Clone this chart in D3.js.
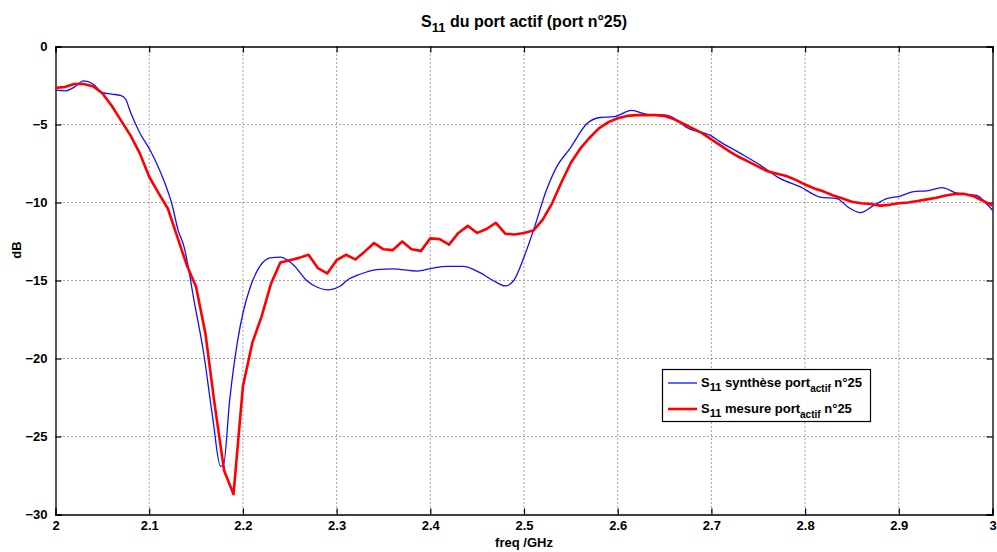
<!DOCTYPE html>
<html><head><meta charset="utf-8">
<script src="https://cdn.jsdelivr.net/npm/d3@7"></script>
<style>
html,body{margin:0;padding:0;background:#fff;}
svg{display:block;}
text{font-family:"Liberation Sans",Arial,Helvetica,sans-serif;font-weight:bold;fill:#000;}
</style></head><body>
<svg id="chart" width="997" height="552"></svg>
<script>
// ---- data ----
const synthFreq = [2.000,2.010,2.020,2.030,2.040,2.050,2.060,2.070,2.075,2.080,2.090,2.101,2.108,2.117,2.124,2.131,2.137,2.141,2.147,2.158,2.168,2.176,2.179,2.186,2.194,2.200,2.208,2.218,2.229,2.240,2.254,2.268,2.280,2.290,2.304,2.311,2.325,2.343,2.360,2.386,2.403,2.418,2.435,2.453,2.467,2.480,2.489,2.500,2.510,2.524,2.535,2.549,2.567,2.581,2.596,2.615,2.631,2.652,2.677,2.699,2.709,2.731,2.752,2.773,2.795,2.816,2.834,2.846,2.859,2.873,2.887,2.901,2.916,2.930,2.946,2.962,2.983,2.994,3.000];
const synthDb = [-2.8,-2.85,-2.6,-2.2,-2.4,-2.95,-3.05,-3.15,-3.4,-4.2,-5.55,-6.65,-7.5,-8.8,-10.05,-11.8,-12.8,-13.9,-16.0,-19.6,-23.9,-26.9,-26.9,-22.6,-19.0,-17.1,-15.4,-14.1,-13.55,-13.5,-14.0,-15.0,-15.45,-15.6,-15.35,-15.0,-14.6,-14.3,-14.25,-14.4,-14.2,-14.1,-14.1,-14.5,-15.0,-15.35,-15.0,-13.5,-11.8,-9.2,-7.7,-6.55,-4.95,-4.55,-4.5,-4.1,-4.35,-4.4,-5.3,-5.7,-6.1,-6.85,-7.6,-8.45,-9.0,-9.65,-9.75,-10.3,-10.65,-10.2,-9.75,-9.6,-9.3,-9.25,-9.05,-9.4,-9.55,-10.1,-10.5];

const mesureFreq = d3.range(0,101).map(i => +(2 + i*0.01).toFixed(2));
const mesureDb = [-2.65,-2.6,-2.4,-2.4,-2.55,-3.0,-3.8,-4.75,-5.7,-6.85,
  -8.35,-9.4,-10.4,-12.2,-14.0,-15.4,-18.4,-23.0,-27.2,-28.7,
  -21.8,-19.0,-17.3,-15.2,-13.85,-13.7,-13.55,-13.35,-14.2,-14.55,
  -13.7,-13.35,-13.65,-13.15,-12.6,-13.0,-13.05,-12.5,-13.0,-13.1,
  -12.3,-12.35,-12.7,-11.95,-11.5,-11.95,-11.7,-11.3,-12.0,-12.05,
  -11.95,-11.8,-11.1,-10.05,-8.7,-7.45,-6.55,-5.85,-5.25,-4.85,
  -4.6,-4.45,-4.4,-4.4,-4.4,-4.45,-4.65,-4.95,-5.25,-5.55,
  -5.95,-6.35,-6.75,-7.1,-7.4,-7.7,-8.0,-8.15,-8.3,-8.55,
  -8.85,-9.1,-9.3,-9.55,-9.75,-9.95,-10.05,-10.1,-10.2,-10.15,
  -10.05,-10.0,-9.9,-9.8,-9.7,-9.55,-9.45,-9.45,-9.6,-9.9,-10.2];

const xTicks = [2,2.1,2.2,2.3,2.4,2.5,2.6,2.7,2.8,2.9,3];
const yTicks = [0,-5,-10,-15,-20,-25,-30];

// ---- layout ----
const svg = d3.select("#chart");
const L = 55.5, R = 992.5, T = 46.5, B = 514.5;
const x = d3.scaleLinear().domain([2,3]).range([L,R]);
const y = d3.scaleLinear().domain([-30,0]).range([B,T]);

// grid
const grid = svg.append("g");
xTicks.slice(1,-1).forEach(t => {
  grid.append("line").attr("x1",x(t)).attr("x2",x(t)).attr("y1",T).attr("y2",B)
    .attr("stroke","#444").attr("stroke-width",1).attr("stroke-dasharray","1,3");
});
yTicks.slice(1,-1).forEach(t => {
  grid.append("line").attr("x1",L).attr("x2",R).attr("y1",y(t)).attr("y2",y(t))
    .attr("stroke","#444").attr("stroke-width",1).attr("stroke-dasharray","1,3");
});

// axes (ticks inward)
const fmtX = d => (d===2||d===3) ? String(d) : d3.format(".1f")(d);
const axB = svg.append("g").attr("transform",`translate(0,${B})`)
  .call(d3.axisBottom(x).tickValues(xTicks).tickSize(-6).tickPadding(6).tickFormat(fmtX));
const axT = svg.append("g").attr("transform",`translate(0,${T})`)
  .call(d3.axisTop(x).tickValues(xTicks).tickSize(-6).tickFormat(""));
const axL = svg.append("g").attr("transform",`translate(${L},0)`)
  .call(d3.axisLeft(y).tickValues(yTicks).tickSize(-6).tickPadding(10).tickFormat(d3.format("d")));
const axR = svg.append("g").attr("transform",`translate(${R},0)`)
  .call(d3.axisRight(y).tickValues(yTicks).tickSize(-6).tickFormat(""));
[axB,axT,axL,axR].forEach(a => {
  a.select(".domain").attr("stroke","#000").attr("stroke-width",1.3);
  a.selectAll(".tick line").attr("stroke","#000").attr("stroke-width",1.2);
  a.selectAll("text").attr("font-size",13).attr("font-weight","bold")
    .attr("font-family","'Liberation Sans',Arial,sans-serif").attr("fill","#000");
});
axL.selectAll("text").attr("dx",2);

// lines
const synth = synthFreq.map((f,i)=>({f, v:synthDb[i]}));
const mesure = mesureFreq.map((f,i)=>({f, v:mesureDb[i]}));
svg.append("path").datum(synth)
  .attr("d", d3.line().x(d=>x(d.f)).y(d=>y(d.v)).curve(d3.curveMonotoneX))
  .attr("fill","none").attr("stroke","#1010ff").attr("stroke-width",1.3);
svg.append("path").datum(mesure)
  .attr("d", d3.line().x(d=>x(d.f)).y(d=>y(d.v)))
  .attr("fill","none").attr("stroke","#ff0000").attr("stroke-width",2.6)
  .attr("stroke-linejoin","round");

// title
const title = svg.append("text").attr("x",(L+R)/2).attr("y",27).attr("text-anchor","middle")
  .attr("font-size",16);
title.append("tspan").text("S");
title.append("tspan").attr("dy",5).attr("font-size",13).text("11");
title.append("tspan").attr("dy",-5).text(" du port actif (port n°25)");

// axis labels
svg.append("text").attr("x",(L+R)/2).attr("y",547).attr("text-anchor","middle")
  .attr("font-size",13).text("freq /GHz");
svg.append("text").attr("transform","translate(21,250) rotate(-90)").attr("text-anchor","middle")
  .attr("font-size",13).text("dB");

// legend
const lg = svg.append("g");
lg.append("rect").attr("x",662.5).attr("y",369.5).attr("width",208).attr("height",52)
  .attr("fill","#fff").attr("stroke","#000").attr("stroke-width",1.2);
const items = [
  {c:"#1010ff", w:1.3, txt:" synthèse port", yy:383},
  {c:"#ff0000", w:2.6, txt:" mesure port", yy:409}
];
items.forEach(it => {
  lg.append("line").attr("x1",668).attr("x2",697).attr("y1",it.yy).attr("y2",it.yy)
    .attr("stroke",it.c).attr("stroke-width",it.w);
  const t = lg.append("text").attr("x",701).attr("y",it.yy+4).attr("font-size",13);
  t.append("tspan").text("S");
  t.append("tspan").attr("dy",4).attr("font-size",11).text("11");
  t.append("tspan").attr("dy",-4).text(it.txt);
  t.append("tspan").attr("dy",5).attr("font-size",10).text("actif");
  t.append("tspan").attr("dy",-5).text(" n°25");
});
</script>
</body></html>
